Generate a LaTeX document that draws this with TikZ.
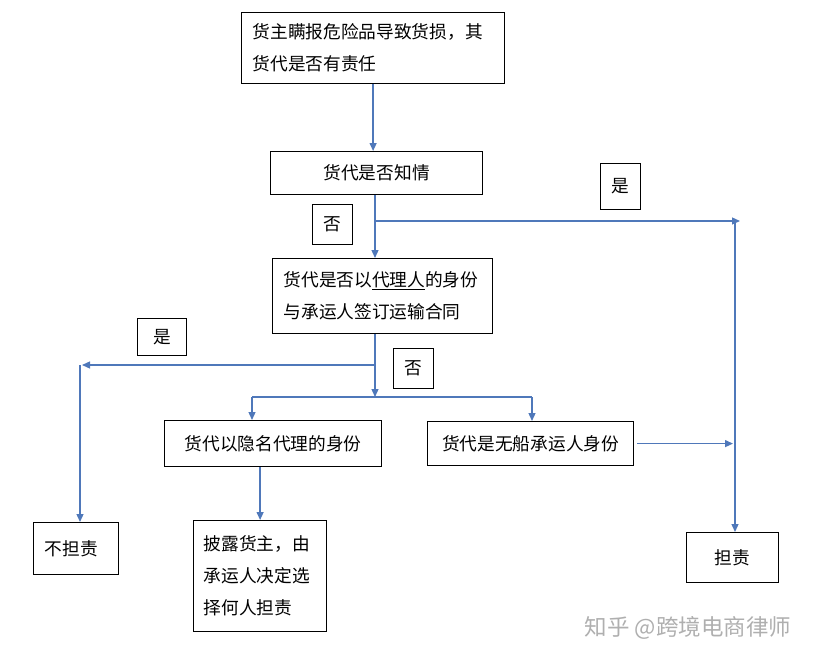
\documentclass[tikz,border=0pt]{standalone}
\usepackage{fontspec}
\setmainfont{Noto Sans CJK SC}
\usetikzlibrary{arrows.meta}
\definecolor{arrblue}{RGB}{79,120,186}
\definecolor{wmgray}{RGB}{175,175,175}
\tikzset{
  box/.style={draw=black, line width=1.2pt, anchor=north west, inner sep=0pt,
    font=\fontsize{17.7pt}{32pt}\selectfont},
  lbox/.style={box, align=left},
  cbox/.style={box, align=center},
  tag/.style={box, align=center},
  arr/.style={draw=arrblue, line width=1.3pt, -{Triangle[width=7pt,length=8pt]}},
  ln/.style={draw=arrblue, line width=1.3pt},
}
\begin{document}
\begin{tikzpicture}[x=1pt,y=-1pt]
\useasboundingbox (0,0) rectangle (820,661);
% boxes
\node[lbox, minimum width=263pt, minimum height=71pt, text width=241pt] (top) at (241,12)
  {货主瞒报危险品导致货损，其\\货代是否有责任};
\node[cbox, minimum width=212pt, minimum height=43pt] (zq) at (270,151) {货代是否知情};
\node[lbox, minimum width=220pt, minimum height=75pt, text width=198pt] (dl) at (272,258)
  {货代是否以\underline{代理人}的身份\\与承运人签订运输合同};
\node[cbox, minimum width=217pt, minimum height=46pt] (yin) at (164,420) {货代以隐名代理的身份};
\node[cbox, minimum width=206pt, minimum height=44pt] (wc) at (427,421) {货代是无船承运人身份};
\node[lbox, minimum width=85pt, minimum height=52pt, text width=63pt] (bd) at (33,522) {不担责};
\node[lbox, minimum width=133pt, minimum height=111pt, text width=113pt] (pl) at (193,520)
  {披露货主，由\\承运人决定选\\择何人担责};
\node[cbox, minimum width=92pt, minimum height=50pt] (dz) at (686,532) {担责};
% tags
\node[tag, minimum width=40pt, minimum height=40pt] (no1) at (312,204) {否};
\node[tag, minimum width=40pt, minimum height=46pt] (yes1) at (600,163) {是};
\node[tag, minimum width=49pt, minimum height=37pt] (yes2) at (137,318) {是};
\node[tag, minimum width=40pt, minimum height=40pt] (no2) at (393,348) {否};
% coordinates
\coordinate (b1) at (375,221);
\coordinate (r1) at (740,221);
\coordinate (c1) at (735,221);
\coordinate (h2) at (375,397);
\coordinate (b2) at (375,365);
\coordinate (l2) at (82,365);
\coordinate (l1) at (80,365);
\coordinate (hl) at (252,397);
\coordinate (hr) at (532,397);
% connectors
\draw[arr] (top.south) -- (top.south |- zq.north);
\draw[arr] (zq.south -| b1) -- (b1 |- dl.north);
\draw[arr] (b1) -- (r1);
\draw[arr] (c1) -- (c1 |- dz.north);
\draw[arr] (dl.south -| h2) -- (h2);
\draw[arr] (b2) -- (l2);
\draw[arr] (l1) -- (l1 |- bd.north);
\draw[ln] (hl) -- (hr);
\draw[arr] (hl) -- (hl |- yin.north);
\draw[arr] (hr) -- (hr |- wc.north);
\draw[arr] ([xshift=3pt]wc.east) -- ([xshift=-2pt]wc.east -| c1);
\draw[arr] (pl.north |- yin.south) -- (pl.north);
% watermark
\node[text=wmgray, font=\fontsize{22.5pt}{24pt}\selectfont, anchor=center] (wm) at (688,628) {知乎 @跨境电商律师};
\end{tikzpicture}
\end{document}
